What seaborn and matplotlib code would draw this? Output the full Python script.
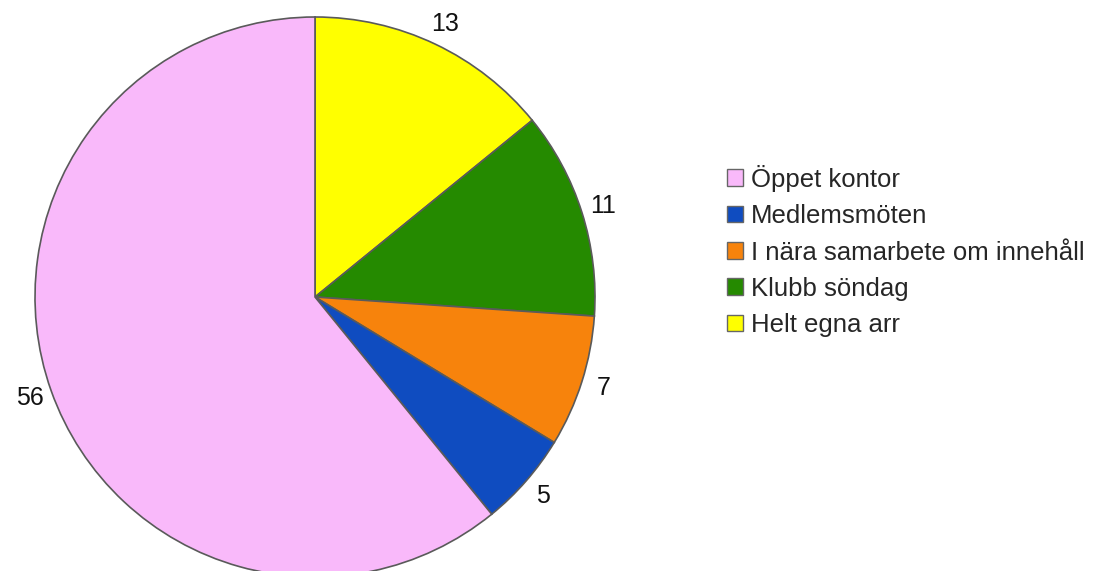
import matplotlib
matplotlib.use("Agg")
import numpy as np
import matplotlib.pyplot as plt
import seaborn as sns

# slice order: clockwise from 12 o'clock
categories = ["Helt egna arr", "Klubb söndag", "I nära samarbete om innehåll",
              "Medlemsmöten", "Öppet kontor"]
values = [13, 11, 7, 5, 56]
colors = ["#FFFF00", "#258A00", "#F7830C", "#0F4CC0", "#F9B9FA"]


def plot_pie():
    sns.set_style("white")
    plt.rcParams["font.family"] = ["Liberation Sans", "DejaVu Sans"]

    fig = plt.figure(figsize=(11.06, 5.71), dpi=100)
    # axes box: pie center (315, 297) px, radius 280 px
    W, H = 1106, 571
    cx, cy, r = 315, 297, 280
    ax = fig.add_axes([(cx - r) / W, (H - cy - r) / H, 2 * r / W, 2 * r / H])

    wedges, texts = ax.pie(
        values,
        labels=[str(v) for v in values],
        colors=colors,
        startangle=90,
        counterclock=False,
        labeldistance=1.08,
        radius=1,
        wedgeprops=dict(edgecolor="#5a5a5a", linewidth=1.2),
        textprops=dict(fontsize=18, color="#111111"),
    )
    for t in texts:
        t.set_ha("center")
        t.set_va("center")
    ax.set_xlim(-1, 1)
    ax.set_ylim(-1, 1)
    ax.set_aspect("auto")
    ax.axis("off")

    # legend lists slices in reverse order
    leg = fig.legend(
        wedges[::-1], categories[::-1],
        loc="center left",
        bbox_to_anchor=(727 / W, 1 - 251 / H),
        frameon=False,
        fontsize=18.5,
        handlelength=0.62,
        handleheight=0.62,
        handletextpad=0.3,
        labelspacing=0.48,
        borderpad=0,
        borderaxespad=0,
    )
    for h in leg.legend_handles:
        h.set_edgecolor("#666666")
        h.set_linewidth(1.0)

    fig.savefig("out.png", dpi=100)


if __name__ == "__main__":
    plot_pie()
